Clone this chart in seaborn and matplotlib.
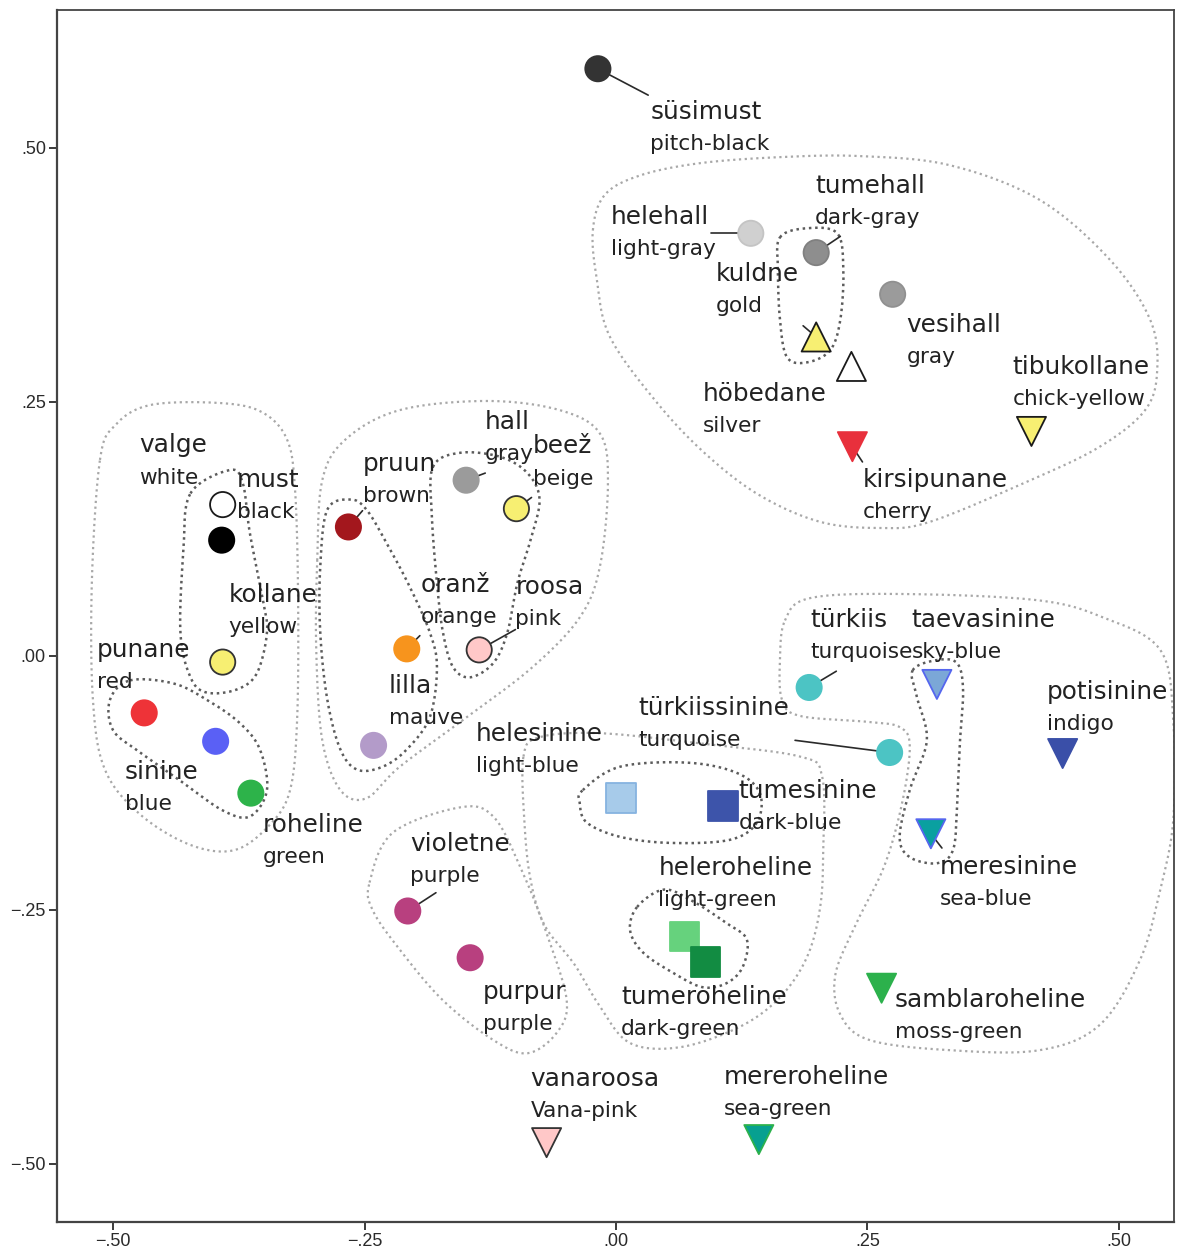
import numpy as np
import pandas as pd
import matplotlib
matplotlib.use("Agg")
import matplotlib.pyplot as plt
from matplotlib.ticker import FuncFormatter, FixedLocator
import seaborn as sns

# ---- colour terms: Estonian name, English gloss, 2-D coordinates ----
names = ["süsimust", "helehall", "tumehall", "vesihall", "kuldne", "höbedane",
         "kirsipunane", "tibukollane", "valge", "must", "kollane", "punane",
         "sinine", "roheline", "pruun", "hall", "beež", "oranž", "roosa", "lilla",
         "violetne", "purpur", "türkiis", "türkiissinine", "taevasinine",
         "meresinine", "potisinine", "helesinine", "tumesinine", "heleroheline",
         "tumeroheline", "samblaroheline", "vanaroosa", "mereroheline"]
english = ["pitch-black", "light-gray", "dark-gray", "gray", "gold", "silver",
           "cherry", "chick-yellow", "white", "black", "yellow", "red",
           "blue", "green", "brown", "gray", "beige", "orange", "pink", "mauve",
           "purple", "purple", "turquoise", "turquoise", "sky-blue",
           "sea-blue", "indigo", "light-blue", "dark-blue", "light-green",
           "dark-green", "moss-green", "Vana-pink", "sea-green"]
dim1 = [-0.018, 0.134, 0.199, 0.275, 0.199, 0.234, 0.235, 0.413, -0.391, -0.392,
        -0.391, -0.469, -0.398, -0.363, -0.266, -0.149, -0.099, -0.208, -0.136,
        -0.241, -0.207, -0.145, 0.192, 0.272, 0.319, 0.313, 0.444, 0.005, 0.106,
        0.068, 0.089, 0.264, -0.069, 0.142]
dim2 = [0.578, 0.416, 0.397, 0.356, 0.314, 0.285, 0.206, 0.221, 0.149, 0.114,
        -0.006, -0.056, -0.084, -0.135, 0.127, 0.173, 0.145, 0.007, 0.006,
        -0.088, -0.251, -0.297, -0.031, -0.095, -0.028, -0.175, -0.096, -0.140,
        -0.148, -0.276, -0.301, -0.327, -0.479, -0.476]
term_type = ["basic", "basic", "basic", "basic", "up", "up", "down", "down",
             "basic", "basic", "basic", "basic", "basic", "basic", "basic",
             "basic", "basic", "basic", "basic", "basic", "basic", "basic",
             "basic", "basic", "down", "down", "down", "square", "square",
             "square", "square", "down", "down", "down"]
fill = ["#333333", "#d0d0d0", "#8e8e8e", "#9b9b9b", "#f7ef72", "#ffffff",
        "#e8303c", "#f7ef72", "#ffffff", "#000000", "#f7ef72", "#ee3338",
        "#5a60f5", "#2db34a", "#a3171d", "#9b9b9b", "#f7ef72", "#f7941d",
        "#ffc8c8", "#b39bc9", "#b8407f", "#b8407f", "#4cc4c4", "#4cc4c4",
        "#7ba7d7", "#0aa0a0", "#3a4fa8", "#a7cbea", "#3d54aa", "#66d27d",
        "#128c42", "#2cb14c", "#ffc8c8", "#07a090"]
edge = ["#333333", "#c4c4c4", "#808080", "#909090", "#1a1a1a", "#1a1a1a",
        "#e8303c", "#1a1a1a", "#1a1a1a", "#000000", "#333333", "#ee3338",
        "#5a60f5", "#2db34a", "#a3171d", "#9b9b9b", "#333333", "#f7941d",
        "#333333", "#b39bc9", "#b8407f", "#b8407f", "#4cc4c4", "#4cc4c4",
        "#5566ee", "#5566ee", "#3a4fa8", "#86b3e0", "#3d54aa", "#66d27d",
        "#128c42", "#2cb14c", "#333333", "#2cb14c"]

df = pd.DataFrame({"name": names, "english": english, "dim1": dim1,
                   "dim2": dim2, "kind": term_type, "fill": fill, "edge": edge})

# ---- cluster outlines (dimension coordinates), outer and inner groups ----
outer_groups = {
    "grays": [(-0.023, 0.419), (-0.011, 0.454), (0.024, 0.473), (0.083, 0.485),
              (0.163, 0.491), (0.243, 0.492), (0.332, 0.483), (0.421, 0.449),
              (0.491, 0.390), (0.531, 0.331), (0.538, 0.281), (0.526, 0.242),
              (0.481, 0.206), (0.412, 0.173), (0.312, 0.132), (0.262, 0.126),
              (0.203, 0.132), (0.143, 0.158), (0.090, 0.198), (0.041, 0.249),
              (-0.006, 0.314), (-0.019, 0.370)],
    "primaries": [(-0.513, 0.193), (-0.498, 0.227), (-0.463, 0.247), (-0.394, 0.249),
                  (-0.352, 0.240), (-0.327, 0.213), (-0.319, 0.163), (-0.316, 0.055),
                  (-0.317, -0.063), (-0.324, -0.132), (-0.344, -0.166), (-0.379, -0.191),
                  (-0.423, -0.186), (-0.473, -0.156), (-0.508, -0.112), (-0.520, -0.043),
                  (-0.521, 0.075)],
    "secondaries": [(-0.297, 0.094), (-0.292, 0.173), (-0.269, 0.213), (-0.215, 0.242),
                    (-0.128, 0.251), (-0.056, 0.242), (-0.016, 0.219), (-0.008, 0.170),
                    (-0.016, 0.088), (-0.036, 0.038), (-0.083, -0.011), (-0.148, -0.060),
                    (-0.215, -0.109), (-0.248, -0.140), (-0.274, -0.132), (-0.292, -0.083),
                    (-0.298, 0.006)],
    "purples": [(-0.245, -0.223), (-0.222, -0.174), (-0.155, -0.149), (-0.122, -0.158),
                (-0.095, -0.208), (-0.069, -0.273), (-0.049, -0.339), (-0.059, -0.371),
                (-0.088, -0.391), (-0.122, -0.378), (-0.172, -0.339), (-0.215, -0.289),
                (-0.242, -0.250)],
    "blue_green": [(-0.092, -0.099), (-0.076, -0.080), (-0.016, -0.076), (0.083, -0.086),
                   (0.183, -0.099), (0.205, -0.119), (0.206, -0.191), (0.203, -0.247),
                   (0.190, -0.296), (0.163, -0.336), (0.123, -0.365), (0.064, -0.385),
                   (0.014, -0.381), (-0.016, -0.345), (-0.041, -0.304), (-0.071, -0.265),
                   (-0.085, -0.220), (-0.091, -0.164)],
    "cyan_blue": [(0.168, 0.035), (0.193, 0.057), (0.285, 0.061), (0.418, 0.055),
                  (0.484, 0.038), (0.541, 0.006), (0.554, -0.063), (0.554, -0.161),
                  (0.541, -0.230), (0.521, -0.299), (0.481, -0.363), (0.421, -0.388),
                  (0.332, -0.388), (0.252, -0.378), (0.223, -0.353), (0.218, -0.314),
                  (0.238, -0.265), (0.267, -0.206), (0.285, -0.142), (0.292, -0.088),
                  (0.282, -0.070), (0.252, -0.065), (0.183, -0.059), (0.165, -0.043),
                  (0.163, -0.004)],
}
inner_groups = {
    "dark_gray_gold": [(0.163, 0.412), (0.190, 0.421), (0.220, 0.416), (0.226, 0.380),
                       (0.223, 0.331), (0.213, 0.301), (0.190, 0.289), (0.170, 0.294),
                       (0.163, 0.331), (0.161, 0.380)],
    "black_yellow": [(-0.423, 0.160), (-0.384, 0.183), (-0.371, 0.170), (-0.364, 0.121),
                     (-0.351, 0.055), (-0.347, 0.023), (-0.357, -0.017), (-0.377, -0.033),
                     (-0.407, -0.036), (-0.423, -0.021), (-0.433, 0.023), (-0.430, 0.104)],
    "red_blue_green": [(-0.483, -0.024), (-0.440, -0.027), (-0.407, -0.043), (-0.374, -0.066),
                       (-0.354, -0.092), (-0.347, -0.132), (-0.364, -0.158), (-0.391, -0.152),
                       (-0.430, -0.125), (-0.473, -0.095), (-0.500, -0.073), (-0.503, -0.043)],
    "brown_orange_mauve": [(-0.287, 0.144), (-0.264, 0.154), (-0.248, 0.144), (-0.228, 0.111),
                           (-0.205, 0.068), (-0.185, 0.023), (-0.178, -0.011), (-0.185, -0.060),
                           (-0.208, -0.092), (-0.232, -0.109), (-0.257, -0.112), (-0.274, -0.092),
                           (-0.287, -0.043), (-0.294, 0.023), (-0.294, 0.088)],
    "gray_beige_pink": [(-0.182, 0.186), (-0.155, 0.200), (-0.115, 0.196), (-0.088, 0.180),
                        (-0.076, 0.154), (-0.085, 0.114), (-0.098, 0.072), (-0.108, 0.023),
                        (-0.122, -0.007), (-0.145, -0.021), (-0.162, -0.011), (-0.172, 0.023),
                        (-0.178, 0.072), (-0.183, 0.137)],
    "sky_sea_blue": [(0.295, -0.014), (0.319, -0.004), (0.339, -0.007), (0.345, -0.033),
                     (0.342, -0.083), (0.339, -0.149), (0.335, -0.191), (0.319, -0.204),
                     (0.292, -0.198), (0.282, -0.178), (0.292, -0.132), (0.309, -0.083),
                     (0.299, -0.040)],
    "light_dark_blue": [(-0.033, -0.132), (0.004, -0.109), (0.071, -0.105), (0.120, -0.115),
                        (0.143, -0.135), (0.140, -0.164), (0.113, -0.181), (0.054, -0.184),
                        (0.004, -0.178), (-0.029, -0.164), (-0.036, -0.145)],
    "light_dark_green": [(0.021, -0.247), (0.047, -0.230), (0.074, -0.240), (0.110, -0.263),
                         (0.130, -0.279), (0.126, -0.306), (0.110, -0.322), (0.086, -0.326),
                         (0.057, -0.312), (0.027, -0.292), (0.014, -0.270)],
}

# ---- label placement (top-left of the Estonian word) and leader ends ----
label_pos = {
    "süsimust": (0.034, 0.547), "helehall": (-0.005, 0.444), "tumehall": (0.198, 0.474),
    "kuldne": (0.099, 0.388), "vesihall": (0.289, 0.338), "höbedane": (0.086, 0.270),
    "tibukollane": (0.394, 0.296), "kirsipunane": (0.245, 0.185), "valge": (-0.474, 0.219),
    "must": (-0.377, 0.185), "kollane": (-0.385, 0.072), "punane": (-0.516, 0.018),
    "sinine": (-0.488, -0.102), "roheline": (-0.351, -0.155), "pruun": (-0.252, 0.201),
    "hall": (-0.130, 0.242), "beež": (-0.083, 0.218), "oranž": (-0.194, 0.082),
    "roosa": (-0.100, 0.080), "lilla": (-0.226, -0.018), "violetne": (-0.205, -0.173),
    "purpur": (-0.132, -0.319), "türkiis": (0.193, 0.047), "taevasinine": (0.294, 0.047),
    "potisinine": (0.428, -0.024), "türkiissinine": (0.022, -0.039),
    "helesinine": (-0.139, -0.065), "tumesinine": (0.122, -0.121),
    "meresinine": (0.322, -0.196), "heleroheline": (0.042, -0.197),
    "tumeroheline": (0.005, -0.324), "samblaroheline": (0.277, -0.327),
    "vanaroosa": (-0.085, -0.405), "mereroheline": (0.107, -0.403),
}
leader_end = {
    "süsimust": (0.032, 0.552), "helehall": (0.094, 0.416), "tumehall": (0.223, 0.413),
    "türkiissinine": (0.178, -0.083), "roosa": (-0.100, 0.026), "türkiis": (0.219, -0.015),
    "violetne": (-0.179, -0.233), "pruun": (-0.252, 0.143), "hall": (-0.130, 0.180),
    "beež": (-0.084, 0.156), "oranž": (-0.195, 0.020), "kuldne": (0.186, 0.325),
    "kirsipunane": (0.245, 0.191), "meresinine": (0.324, -0.189),
    "taevasinine": (0.326, -0.017), "tibukollane": (0.424, 0.232),
}


def closed_curve(points, steps=24):
    """Closed Catmull-Rom spline through the outline vertices."""
    p = np.asarray(points, dtype=float)
    n = len(p)
    t = np.linspace(0, 1, steps, endpoint=False)[:, None]
    segs = []
    for i in range(n):
        p0, p1, p2, p3 = p[i - 1], p[i], p[(i + 1) % n], p[(i + 2) % n]
        segs.append(0.5 * (2 * p1 + (-p0 + p2) * t
                           + (2 * p0 - 5 * p1 + 4 * p2 - p3) * t ** 2
                           + (-p0 + 3 * p1 - 3 * p2 + p3) * t ** 3))
    c = np.vstack(segs)
    return np.vstack([c, c[:1]])


sns.set_theme(style="white")
plt.rcParams["font.family"] = ["DejaVu Sans"]
plt.rcParams["axes.unicode_minus"] = True

fig = plt.figure(figsize=(11.87, 12.57), dpi=100)
ax = fig.add_axes([57 / 1187, 35 / 1257, 1117 / 1187, 1212 / 1257])
ax.set_xlim(-0.5557, 0.5547)
ax.set_ylim(-0.5571, 0.6358)

for pts in outer_groups.values():
    c = closed_curve(pts)
    ax.plot(c[:, 0], c[:, 1], color="#a8a8a8", lw=1.6, ls=(0, (1, 1.6)), zorder=1)
for pts in inner_groups.values():
    c = closed_curve(pts)
    ax.plot(c[:, 0], c[:, 1], color="#5c5c5c", lw=1.8, ls=(0, (1, 1.5)), zorder=1)

# leader lines from each point towards its label
for nm, (ex, ey) in leader_end.items():
    row = df.loc[df["name"] == nm].iloc[0]
    ax.plot([row["dim1"], ex], [row["dim2"], ey], color="#2a2a2a", lw=1.2, zorder=2)

palette = dict(zip(df["name"], df["fill"]))
marker_spec = {"basic": ("o", 330), "up": ("^", 440), "down": ("v", 440),
               "square": ("s", 460)}
for kind, (mk, size) in marker_spec.items():
    sub = df[df["kind"] == kind]
    sns.scatterplot(data=sub, x="dim1", y="dim2", hue="name", palette=palette,
                    marker=mk, s=size, edgecolor=list(sub["edge"]),
                    linewidth=1.3, legend=False, ax=ax, zorder=3)

for _, row in df.iterrows():
    lx, ly = label_pos[row["name"]]
    ax.text(lx, ly, row["name"], fontsize=17.8, color="#222222",
            ha="left", va="top", zorder=4)
    ax.annotate(row["english"], xy=(lx, ly), xytext=(0, -24.5),
                textcoords="offset points", fontsize=15.6, color="#222222",
                ha="left", va="top", zorder=4)

ax.set_xlabel("")
ax.set_ylabel("")
ticks = [-0.50, -0.25, 0.0, 0.25, 0.50]
ax.xaxis.set_major_locator(FixedLocator(ticks))
ax.yaxis.set_major_locator(FixedLocator(ticks))
fmt = FuncFormatter(lambda v, _: f"{v:.2f}".replace("0.", ".").replace("-", "\u2212"))
ax.xaxis.set_major_formatter(fmt)
ax.yaxis.set_major_formatter(fmt)
ax.tick_params(axis="both", direction="out", length=6, width=1.4,
               color="#3a3a3a", labelsize=13, labelcolor="#2a2a2a", pad=2,
               labelfontfamily="Liberation Sans")
ax.tick_params(axis="x", bottom=True)
ax.tick_params(axis="y", left=True)
for side, sp in ax.spines.items():
    sp.set_visible(True)
    sp.set_color("#444444")
    sp.set_linewidth(1.6 if side in ("left", "bottom") else 1.3)

fig.savefig("out.png", dpi=100, facecolor="white")
